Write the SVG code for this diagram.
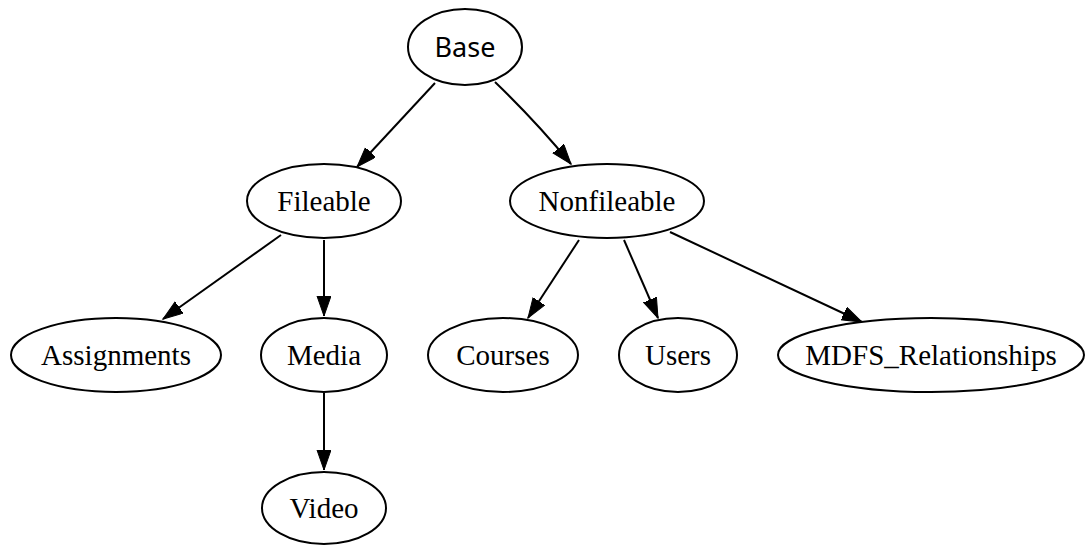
<svg xmlns="http://www.w3.org/2000/svg" width="1086" height="546" viewBox="0 0 1086 546">
  <style>
    .node ellipse { fill: #ffffff; stroke: #000000; stroke-width: 2; }
    .node text { font-family: "Liberation Serif", "Times New Roman", serif; font-size: 29px; fill: #000000; text-anchor: middle; }
    .node text.sans { font-family: "Noto Sans", "Open Sans", sans-serif; font-size: 27px; }
    .edges path { fill: none; stroke: #000000; stroke-width: 2; marker-end: url(#arrow); }
  </style>
  <defs>
    <marker id="arrow" markerUnits="userSpaceOnUse" markerWidth="22" markerHeight="16" refX="20" refY="7" orient="auto">
      <path d="M0,0 L20,7 L0,14 Z" fill="#000000" stroke="#000000" stroke-width="1"/>
    </marker>
  </defs>
  <rect width="1086" height="546" fill="#ffffff"/>

  <g class="edges">
    <path d="M435,83 L357,167"/>
    <path d="M495,82 C520,106 548,136 571,164"/>
    <path d="M281,235 L163,319"/>
    <path d="M324,240 L324,316"/>
    <path d="M579,240 L528,318"/>
    <path d="M624,240 L658,318"/>
    <path d="M670,232 L862,322"/>
    <path d="M324,393 L324,470"/>
  </g>

  <g id="base" class="node">
    <ellipse cx="465" cy="47" rx="57" ry="38"/>
    <text class="sans" x="465" y="57">Base</text>
  </g>
  <g id="fileable" class="node">
    <ellipse cx="324" cy="201" rx="77" ry="37"/>
    <text x="324" y="211">Fileable</text>
  </g>
  <g id="nonfileable" class="node">
    <ellipse cx="607" cy="201" rx="97" ry="37"/>
    <text x="607" y="211">Nonfileable</text>
  </g>
  <g id="assignments" class="node">
    <ellipse cx="116" cy="355" rx="105" ry="37"/>
    <text x="116" y="365">Assignments</text>
  </g>
  <g id="media" class="node">
    <ellipse cx="324" cy="355" rx="63" ry="37"/>
    <text x="324" y="365">Media</text>
  </g>
  <g id="courses" class="node">
    <ellipse cx="503" cy="355" rx="75" ry="37"/>
    <text x="503" y="365">Courses</text>
  </g>
  <g id="users" class="node">
    <ellipse cx="678" cy="355" rx="59" ry="37"/>
    <text x="678" y="365">Users</text>
  </g>
  <g id="mdfs_relationships" class="node">
    <ellipse cx="931" cy="355" rx="153" ry="37"/>
    <text x="931" y="365">MDFS_Relationships</text>
  </g>
  <g id="video" class="node">
    <ellipse cx="324" cy="508" rx="62" ry="36"/>
    <text x="324" y="518">Video</text>
  </g>
</svg>
